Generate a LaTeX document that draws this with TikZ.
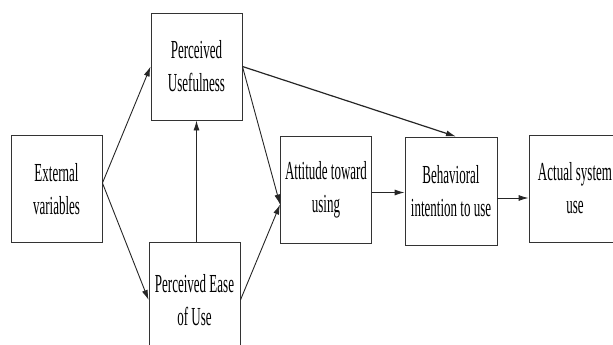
\documentclass[tikz,border=0pt]{standalone}
\usepackage{fontspec}
\setmainfont{Liberation Serif}[FakeStretch=0.5]
\usetikzlibrary{arrows.meta,calc}
\begin{document}
\begin{tikzpicture}[x=1pt,y=-1pt,
  box/.style={draw=black!80,line width=0.9pt,minimum width=91pt,minimum height=107pt,
    align=center,inner sep=0pt,font=\fontsize{26}{33}\selectfont},
  arr/.style={draw=black!85,line width=0.9pt,-{Latex[length=10pt,width=6pt]}}]
\useasboundingbox (0,0) rectangle (613,345);
\begin{scope}
\clip (0,0) rectangle (613,345);
\node[box] (ext) at (56.5,189) {External\\variables};
\node[box] (pu) at (196.5,66.5) {Perceived\\Usefulness};
\node[box,minimum height=116pt] (peou) at (194.5,300) {Perceived Ease\\of Use};
\node[box] (att) at (326,189.5) {Attitude toward\\using};
\node[box,minimum width=92pt,minimum height=108pt] (beh) at (451,191) {Behavioral\\intention to use};
\node[box,minimum width=92pt] (act) at (575,188.5) {Actual system\\use};
\end{scope}
\coordinate (extout) at ([yshift=6pt]ext.east);
\coordinate (attin) at ([yshift=-15pt]att.west);
\draw[arr] (extout) -- (pu.west);
\draw[arr] (extout) -- (peou.west);
\draw[arr] (pu.south |- peou.north) -- (pu.south);
\draw[arr] (pu.east) -- (attin);
\draw[arr] (peou.east) -- (attin);
\draw[arr,line width=1.2pt] (pu.east) -- ([xshift=5pt]beh.north);
\draw[arr] ([yshift=-3pt]att.east) -- ([yshift=-3pt]att.east -| beh.west);
\draw[arr] ([yshift=-7pt]beh.east) -- ([yshift=-7pt]beh.east -| act.west);
\end{tikzpicture}
\end{document}
